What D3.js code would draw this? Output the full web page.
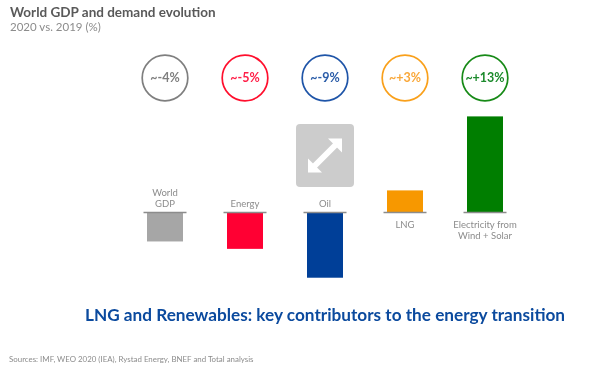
<!DOCTYPE html>
<html>
<head>
<meta charset="utf-8">
<script src="https://cdn.jsdelivr.net/npm/d3@7"></script>
<style>
  html, body { margin: 0; padding: 0; background: #fff; }
  svg { display: block; filter: blur(0.4px); }
  text { font-family: Lato, "Open Sans", sans-serif; }
</style>
</head>
<body>
<div id="chart"></div>
<script>
var categories = ["World GDP", "Energy", "Oil", "LNG", "Electricity from Wind + Solar"];
var values = [-3.9, -4.9, -8.8, 3, 13];
var circleLabels = ["~-4%", "~-5%", "~-9%", "~+3%", "~+13%"];
var colors = ["#a6a6a6", "#ff0033", "#003f98", "#f79800", "#007e00"];
var ringColors = ["#7f7f7f", "#ff0f2d", "#1f55a8", "#f9a01b", "#178a17"];
var textColors = ["#7f7f7f", "#ff1f48", "#2a5ca8", "#f9a83a", "#1c8a2c"];
var labelLines = [["World", "GDP"], ["Energy"], ["Oil"], ["LNG"], ["Electricity from", "Wind + Solar"]];

var width = 602, height = 368;
var barWidth = 36, tickWidth = 43;

var svg = d3.select("#chart").append("svg")
  .attr("width", width)
  .attr("height", height);

var x = d3.scalePoint().domain(categories).range([165, 485]);
var y = d3.scaleLinear().domain([-10, 14]).range([286.6, 109]);

// header
svg.append("text").attr("x", 10).attr("y", 17)
  .attr("font-size", 13.5).attr("font-weight", 700).attr("fill", "#595959")
  .text("World GDP and demand evolution");
svg.append("text").attr("x", 10).attr("y", 30.5)
  .attr("font-size", 11.5).attr("fill", "#8c8c8c")
  .text("2020 vs. 2019 (%)");

// expand icon
var icon = svg.append("g").attr("transform", "translate(325,155.5)");
icon.append("rect")
  .attr("x", -29).attr("y", -31.5).attr("width", 58).attr("height", 63)
  .attr("rx", 4).attr("fill", "#cccccc");
icon.append("line")
  .attr("x1", -11).attr("y1", 11).attr("x2", 11).attr("y2", -11)
  .attr("stroke", "#fff").attr("stroke-width", 6);
icon.append("path").attr("d", "M17,-17 L17,-3 L3,-17 Z").attr("fill", "#fff");
icon.append("path").attr("d", "M-17,17 L-17,3 L-3,17 Z").attr("fill", "#fff");

// bars
svg.selectAll("rect.bar").data(categories).enter().append("rect")
  .attr("class", "bar")
  .attr("x", function (d) { return x(d) - barWidth / 2; })
  .attr("y", function (d, i) { return Math.min(y(values[i]), y(0)); })
  .attr("width", barWidth)
  .attr("height", function (d, i) { return Math.abs(y(values[i]) - y(0)); })
  .attr("fill", function (d, i) { return colors[i]; });

// baselines
svg.selectAll("line.base").data(categories).enter().append("line")
  .attr("class", "base")
  .attr("x1", function (d) { return x(d) - tickWidth / 2; })
  .attr("x2", function (d) { return x(d) + tickWidth / 2; })
  .attr("y1", y(0)).attr("y2", y(0))
  .attr("stroke", "#8c8c8c").attr("stroke-width", 1.5);

// rings
var rings = svg.selectAll("g.ring").data(categories).enter().append("g")
  .attr("class", "ring")
  .attr("transform", function (d) { return "translate(" + x(d) + ",78)"; });
rings.append("circle")
  .attr("r", 22.8).attr("fill", "#fff")
  .attr("stroke", function (d, i) { return ringColors[i]; })
  .attr("stroke-width", 1.7);
rings.append("text")
  .attr("text-anchor", "middle").attr("dy", "0.35em")
  .attr("font-size", 12.5).attr("font-weight", 700)
  .attr("fill", function (d, i) { return textColors[i]; })
  .text(function (d, i) { return circleLabels[i]; });

// category labels, above the line for negative bars and below for positive
svg.selectAll("text.cat").data(categories).enter().append("text")
  .attr("class", "cat")
  .attr("text-anchor", "middle")
  .attr("font-size", 9.5).attr("fill", "#8c8c8c")
  .each(function (d, i) {
    var lines = labelLines[i];
    var first = values[i] < 0 ? y(0) - 6 - (lines.length - 1) * 11 : y(0) + 15;
    d3.select(this).selectAll("tspan").data(lines).enter().append("tspan")
      .attr("x", x(d))
      .attr("y", function (l, j) { return first + j * 11; })
      .text(function (l) { return l; });
  });

// footer
svg.append("text").attr("x", 85).attr("y", 321)
  .attr("font-size", 17.2).attr("font-weight", 700).attr("fill", "#0b4a9e")
  .text("LNG and Renewables: key contributors to the energy transition");
svg.append("text").attr("x", 9).attr("y", 362)
  .attr("font-size", 7.9).attr("fill", "#8c8c8c")
  .text("Sources: IMF, WEO 2020 (IEA), Rystad Energy, BNEF and Total analysis");
</script>
</body>
</html>
